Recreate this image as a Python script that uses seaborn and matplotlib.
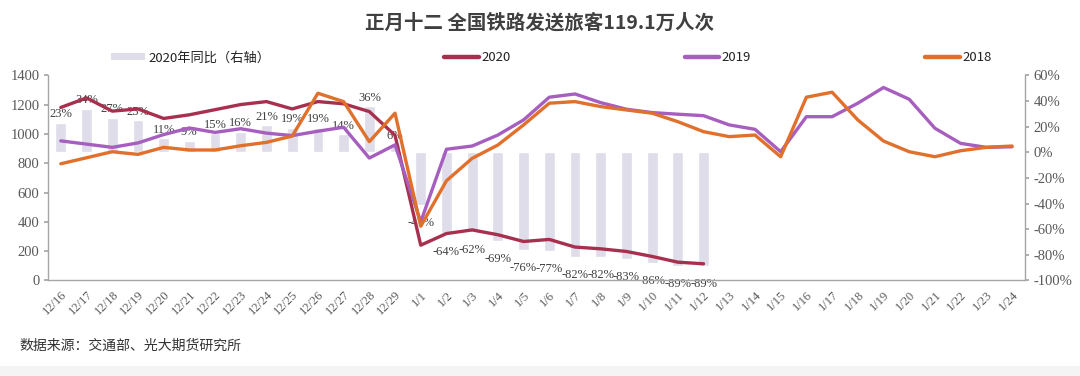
import numpy as np
import pandas as pd
import matplotlib
matplotlib.use("Agg")
import matplotlib.pyplot as plt
from matplotlib.lines import Line2D
from matplotlib.patches import Patch, Rectangle
import seaborn as sns

# === Data ===
dates = ["12/16", "12/17", "12/18", "12/19", "12/20", "12/21", "12/22", "12/23",
         "12/24", "12/25", "12/26", "12/27", "12/28", "12/29",
         "1/1", "1/2", "1/3", "1/4", "1/5", "1/6", "1/7", "1/8", "1/9", "1/10",
         "1/11", "1/12", "1/13", "1/14", "1/15", "1/16", "1/17", "1/18", "1/19",
         "1/20", "1/21", "1/22", "1/23", "1/24"]

# passengers, 10k people (left axis)
y2020 = [1180, 1245, 1155, 1170, 1105, 1130, 1165, 1200, 1220, 1170, 1220, 1205,
         1152, 990,
         241, 320, 345, 312, 266, 280, 228, 216, 198, 164, 125, 114]
y2019 = [952, 930, 908, 938, 995, 1040, 1010, 1035, 1005, 988, 1018, 1045,
         835, 925,
         400, 895, 917, 992, 1095, 1250, 1272, 1213, 1168, 1145, 1134, 1124,
         1061, 1031, 878, 1117, 1117, 1209, 1316, 1236, 1038, 935, 908, 912]
y2018 = [796, 837, 878, 860, 908, 890, 890, 919, 942, 985, 1277, 1220,
         947, 1141,
         370, 680, 833, 924, 1061, 1209, 1220, 1186, 1163, 1141, 1083, 1015,
         981, 992, 844, 1250, 1284, 1095, 951, 878, 844, 885, 908, 917]

# 2020 year-on-year change, % (right axis)
yoy2020 = [23, 34, 27, 25, 11, 9, 15, 16, 21, 19, 19, 14, 36, 6,
           -41, -64, -62, -69, -76, -77, -82, -82, -83, -86, -89, -89]

# === Style ===
c2020 = "#A8304F"
c2019 = "#A65EBF"
c2018 = "#E0702B"
cbar = "#DEDDE9"
tick_color = "#595959"
axis_color = "#A6A6A6"

sns.set_theme(style="white")
plt.rcParams["font.family"] = ["Noto Sans CJK SC", "DejaVu Sans"]

fig = plt.figure(figsize=(10.8, 3.76), dpi=100)
ax = fig.add_axes([0.0444, 0.254, 0.9046, 0.546])
ax2 = ax.twinx()

# bars on the right axis (behind the lines)
bar_df = pd.DataFrame({"date": dates[:len(yoy2020)], "yoy": yoy2020})
sns.barplot(data=bar_df, x="date", y="yoy", order=dates, color=cbar,
            saturation=1, width=0.42, errorbar=None, ax=ax2)

for i, v in enumerate(yoy2020):
    off = 6 if v >= 0 else -13
    ax2.annotate(f"{v}%", (i, v), xytext=(0, off), textcoords="offset points",
                 ha="center", va="center", fontsize=9,
                 family="Liberation Serif", color="#404040")

# lines on the left axis
pos = np.arange(len(dates))
sns.lineplot(x=pos[:len(y2020)], y=y2020, color=c2020, linewidth=2.4, ax=ax)
sns.lineplot(x=pos[:len(y2019)], y=y2019, color=c2019, linewidth=2.4, ax=ax)
sns.lineplot(x=pos[:len(y2018)], y=y2018, color=c2018, linewidth=2.4, ax=ax)

ax.set_zorder(ax2.get_zorder() + 1)
ax.patch.set_visible(False)

# axes limits and ticks
ax.set_xlim(-0.5, len(dates) - 0.5)
ax.set_ylim(0, 1400)
ax.set_yticks(range(0, 1401, 200))
ax2.set_ylim(-100, 60)
ax2.set_yticks(range(-100, 61, 20))
ax2.set_yticklabels([f"{t}%" for t in range(-100, 61, 20)])

ax.set_xticks(pos)
ax.set_xticklabels(dates, rotation=45, ha="right", rotation_mode="anchor",
                   fontsize=9, family="Liberation Serif", color=tick_color)
ax.set_xticks(np.arange(-0.5, len(dates), 1), minor=True)
ax.tick_params(axis="x", which="major", length=0, pad=6)
ax.tick_params(axis="x", which="minor", length=3, color=axis_color, direction="out")
ax.tick_params(axis="y", length=3, color=axis_color, labelsize=10.5, labelcolor=tick_color, pad=3)
ax2.tick_params(axis="y", length=3, color=axis_color, labelsize=10.5, labelcolor=tick_color, pad=3)
for lab in ax.get_yticklabels() + ax2.get_yticklabels():
    lab.set_family("Liberation Serif")
ax2.set_xlabel("")
ax2.set_ylabel("")
ax.set_xlabel("")
ax.set_ylabel("")

for a in (ax, ax2):
    for s in a.spines.values():
        s.set_visible(False)
ax.spines["left"].set_visible(True)
ax.spines["bottom"].set_visible(True)
ax2.spines["right"].set_visible(True)
for s in (ax.spines["left"], ax.spines["bottom"], ax2.spines["right"]):
    s.set_color(axis_color)
    s.set_linewidth(1)
ax.tick_params(axis="y", left=True)
ax2.tick_params(axis="y", right=True)

# legend
handles = [Patch(facecolor=cbar, edgecolor="none"),
           Line2D([], [], color=c2020, linewidth=3.2),
           Line2D([], [], color=c2019, linewidth=3.2),
           Line2D([], [], color=c2018, linewidth=3.2)]
labels = ["2020年同比（右轴）", "2020", "2019", "2018"]
fig.legend(handles, labels, loc="lower left", ncol=4, mode="expand",
           bbox_to_anchor=(0.098, 0.815, 0.825, 0.07), frameon=False,
           fontsize=9.5, handlelength=2.6, handleheight=0.5, handletextpad=0.2,
           borderaxespad=0, labelcolor="#222222")

# title and source
fig.text(0.5, 0.94, "正月十二 全国铁路发送旅客119.1万人次", ha="center", va="center",
         fontsize=14, fontweight="bold", color="#404040")
fig.text(0.018, 0.08, "数据来源：交通部、光大期货研究所", ha="left", va="center",
         fontsize=10, color="#333333")

fig.patches.append(Rectangle((0, 0), 1, 10 / 376, transform=fig.transFigure,
                             facecolor="#F4F4F4", edgecolor="none"))

fig.savefig("out.png", dpi=100)
plt.close(fig)
